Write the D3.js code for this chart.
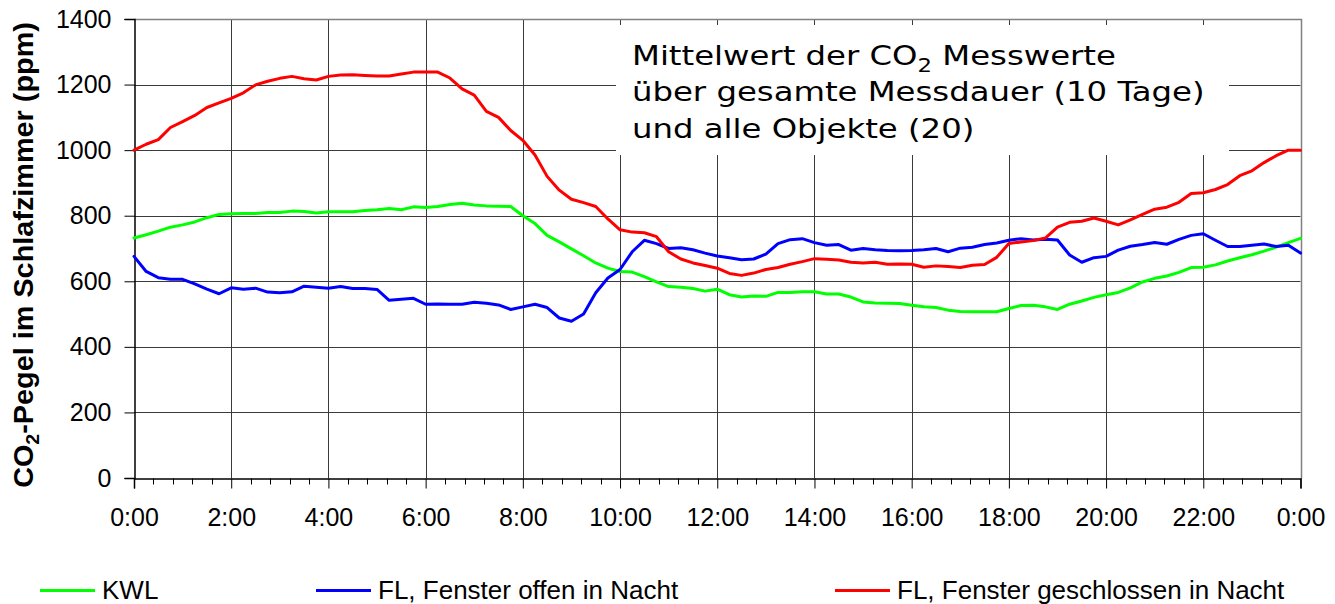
<!DOCTYPE html>
<html>
<head>
<meta charset="utf-8">
<script src="https://cdn.jsdelivr.net/npm/d3@7"></script>
<style>
  html, body { margin: 0; padding: 0; background: #fff; }
  svg { display: block; }
</style>
</head>
<body>
<div id="chart"></div>
<script>
// CO2 Tagesverlauf - Mittelwerte (10 Tage, 20 Objekte)

// time axis, every 15 minutes from 0:00 to 24:00
const hours = d3.range(0, 24.001, 0.25);

const kwl = [
  732, 742, 753, 765, 772, 781, 794, 804, 806, 807, 807, 810,
  810, 814, 813, 808, 812, 812, 812, 816, 818, 822, 818, 827,
  825, 828, 834, 838, 833, 830, 829, 828, 800, 776, 740, 720,
  699, 678, 656, 640, 630, 628, 614, 598, 584, 582, 578, 570,
  576, 559, 552, 555, 554, 566, 566, 568, 568, 561, 561, 552,
  537, 534, 533, 532, 527, 522, 520, 512, 508, 507, 507, 507,
  517, 526, 527, 522, 514, 530, 540, 551, 559, 566, 580, 598,
  609, 616, 627, 642, 643, 650, 662, 672, 681, 692, 704, 718,
  731
];

const flOffen = [
  676, 630, 611, 606, 606, 592, 576, 562, 580, 576, 579, 567,
  565, 568, 585, 582, 579, 584, 578, 578, 575, 542, 545, 548,
  530, 531, 530, 530, 536, 533, 528, 514, 522, 530, 520, 488,
  478, 500, 565, 610, 636, 690, 725, 715, 700, 702, 696, 686,
  677, 672, 666, 668, 683, 715, 727, 730, 718, 710, 712, 695,
  700, 696, 694, 693, 694, 696, 700, 690, 701, 704, 712, 717,
  725, 730, 726, 728, 726, 680, 658, 672, 676, 695, 707, 712,
  718, 713, 728, 740, 745, 725, 706, 706, 710, 714, 706, 710,
  686
];

const flGeschlossen = [
  1000, 1018, 1032, 1069, 1087, 1106, 1130, 1144, 1158, 1175, 1199, 1210,
  1219, 1225, 1218, 1214, 1225, 1229, 1230, 1228, 1226, 1226, 1232, 1238,
  1238, 1238, 1220, 1187, 1168, 1118, 1100, 1060, 1030, 985, 920, 878,
  850, 840, 828, 790, 757, 750, 748, 736, 690, 668, 656, 648,
  640, 624, 618, 625, 636, 642, 652, 660, 669, 667, 665, 658,
  656, 658, 652, 653, 652, 643, 647, 645, 642, 649, 651, 673,
  715, 720, 724, 732, 765, 780, 783, 793, 783, 772, 787, 804,
  820, 826, 841, 868, 870, 880, 895, 922, 937, 962, 983, 1000,
  1000
];

const seriesNames = ["KWL", "FL, Fenster offen in Nacht", "FL, Fenster geschlossen in Nacht"];
const seriesColors = ["#00ff00", "#0000ff", "#ff0000"];
const xTickHours = d3.range(0, 24.001, 2);
const yTickValues = d3.range(0, 1401, 200);
const noteLines = ["Mittelwert der CO|2| Messwerte", "über gesamte Messdauer (10 Tage)", "und alle Objekte (20)"];

{
    const W = 1335, H = 604;
    const plot = { left: 134, right: 1300.5, top: 19, bottom: 478 };

    const svg = d3.select("#chart").append("svg")
        .attr("width", W)
        .attr("height", H)
        .style("font-family", "'Liberation Sans', Arial, sans-serif");

    const x = d3.scaleLinear().domain([0, 24]).range([plot.left, plot.right]);
    const y = d3.scaleLinear().domain([0, 1400]).range([plot.bottom, plot.top]);

    const crisp = v => Math.round(v) + 0.5;

    // gridlines
    const grid = svg.append("g").attr("stroke", "#3a3a3a").attr("stroke-width", 1);
    grid.selectAll(".hg").data(yTickValues.filter(v => v > 0 && v < 1400)).enter()
        .append("line")
        .attr("x1", plot.left).attr("x2", plot.right)
        .attr("y1", d => crisp(y(d))).attr("y2", d => crisp(y(d)));
    grid.selectAll(".vg").data(xTickHours.filter(h => h > 0 && h < 24)).enter()
        .append("line")
        .attr("y1", plot.top).attr("y2", plot.bottom)
        .attr("x1", d => crisp(x(d))).attr("x2", d => crisp(x(d)));

    // frame top / right (gray)
    svg.append("path")
        .attr("d", `M${crisp(plot.left)},${crisp(plot.top)}H${crisp(plot.right)}V${crisp(plot.bottom)}`)
        .attr("fill", "none").attr("stroke", "#808080").attr("stroke-width", 1.5);

    // white note box covering the grid
    svg.append("rect")
        .attr("x", 616).attr("y", 25)
        .attr("width", 613).attr("height", 130)
        .attr("fill", "#fff");

    const note = svg.append("text")
        .attr("font-family", "'DejaVu Sans', Verdana, sans-serif")
        .attr("font-size", 27)
        .attr("fill", "#000");
    noteLines.forEach((line, i) => {
        const t = note.append("tspan").attr("x", 0).attr("y", 65 + i * 36.5);
        const parts = line.split("|");
        t.text(parts[0]);
        if (parts.length > 1) {
            note.append("tspan").attr("font-size", 19).attr("dy", 7).text(parts[1]);
            note.append("tspan").attr("dy", -7).text(parts[2]);
        }
    });
    // stretch to the width of the longest line in the original (632 -> 1205)
    const probe = svg.append("text")
        .attr("font-family", "'DejaVu Sans', Verdana, sans-serif")
        .attr("font-size", 27).text(noteLines[1]);
    const noteScale = 573 / probe.node().getComputedTextLength();
    probe.remove();
    note.attr("transform", `translate(632,0) scale(${noteScale},1)`);

    // axes
    const yAxis = svg.append("g")
        .attr("transform", `translate(${crisp(plot.left)},0)`)
        .call(d3.axisLeft(y).tickValues(yTickValues).tickSize(10).tickPadding(13)
            .tickFormat(d3.format("d")));
    const xAxis = svg.append("g")
        .attr("transform", `translate(0,${crisp(plot.bottom)})`)
        .call(d3.axisBottom(x).tickValues(xTickHours).tickSize(10).tickPadding(20)
            .tickFormat(h => `${h % 24}:00`));
    const minor = d3.range(0, 24.001, 0.4).filter(h => Math.abs(h / 2 - Math.round(h / 2)) > 0.01);
    svg.append("g")
        .attr("transform", `translate(0,${crisp(plot.bottom)})`)
        .selectAll("line").data(minor).enter().append("line")
        .attr("x1", d => crisp(x(d))).attr("x2", d => crisp(x(d)))
        .attr("y1", 0).attr("y2", 6)
        .attr("stroke", "#000");

    [xAxis, yAxis].forEach(a => {
        a.select(".domain").attr("stroke", "#000").attr("stroke-width", 1.5);
        a.selectAll(".tick line").attr("stroke", "#000");
        a.selectAll(".tick text")
            .attr("font-family", "'Liberation Sans', Arial, sans-serif")
            .attr("font-size", 25).attr("fill", "#000");
    });
    xAxis.selectAll(".tick text").attr("dy", "0.71em");

    // y title, stretched along its length to span 22..488 as in the original
    const yt = svg.append("text")
        .attr("text-anchor", "middle")
        .attr("font-size", 28).attr("font-weight", "bold").attr("fill", "#000");
    yt.append("tspan").text("CO");
    yt.append("tspan").attr("font-size", 19).attr("dy", 6).text("2");
    yt.append("tspan").attr("dy", -6).text("-Pegel im Schlafzimmer (ppm)");
    const ytScale = 466 / yt.node().getComputedTextLength();
    yt.attr("transform", `translate(33,255) rotate(-90) scale(${ytScale},1)`);

    // series
    const line = d3.line().x((d, i) => x(hours[i])).y(d => y(d));
    [kwl, flOffen, flGeschlossen].forEach((vals, i) => {
        svg.append("path")
            .datum(vals)
            .attr("d", line)
            .attr("fill", "none")
            .attr("stroke", seriesColors[i])
            .attr("stroke-width", 3)
            .attr("stroke-linejoin", "round")
            .attr("stroke-linecap", "round");
    });

    // legend
    const legendX = [40, 316, 835];
    const legend = svg.append("g");
    seriesNames.forEach((name, i) => {
        legend.append("line")
            .attr("x1", legendX[i]).attr("x2", legendX[i] + 55)
            .attr("y1", 590.5).attr("y2", 590.5)
            .attr("stroke", seriesColors[i]).attr("stroke-width", 3);
        legend.append("text")
            .attr("x", legendX[i] + 62).attr("y", 590)
            .attr("dy", "0.35em")
            .attr("font-size", 26).attr("fill", "#000")
            .text(name);
    });
}
</script>
</body>
</html>
